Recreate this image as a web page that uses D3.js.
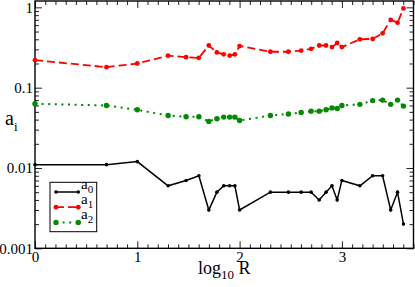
<!DOCTYPE html>
<html>
<head>
<meta charset="utf-8">
<script src="https://cdn.jsdelivr.net/npm/d3@7"></script>
<style>
  body { margin: 0; background: #fff; }
  text { font-family: "Liberation Serif", "DejaVu Serif", serif; fill: #000; }
</style>
</head>
<body>
<svg id="chart" width="415" height="287"></svg>
<script>
// x = log10 R
const logR = [0, 0.699, 1, 1.301, 1.477, 1.602, 1.699, 1.778, 1.845, 1.903, 1.954, 2,
  2.301, 2.477, 2.602, 2.699, 2.778, 2.845, 2.903, 2.954, 3, 3.176, 3.301, 3.398, 3.477, 3.544, 3.602];

const a0 = [0.011, 0.011, 0.012, 0.006, 0.007, 0.008, 0.003, 0.005, 0.006, 0.006, 0.006, 0.003,
  0.005, 0.005, 0.005, 0.005, 0.004, 0.005, 0.006, 0.004, 0.007, 0.006, 0.008, 0.008, 0.003, 0.005, 0.002];
const a1 = [0.22, 0.18, 0.20, 0.25, 0.24, 0.235, 0.335, 0.275, 0.26, 0.25, 0.26, 0.33,
  0.28, 0.28, 0.29, 0.305, 0.335, 0.335, 0.32, 0.36, 0.32, 0.40, 0.405, 0.475, 0.70, 0.645, 0.97];
const a2 = [0.063, 0.060, 0.053, 0.045, 0.0435, 0.0435, 0.038, 0.041, 0.043, 0.043, 0.043, 0.039,
  0.045, 0.047, 0.049, 0.051, 0.051, 0.053, 0.056, 0.055, 0.060, 0.062, 0.069, 0.070, 0.062, 0.070, 0.059];

const seriesNames = ["0", "1", "2"];
const xTicks = [0, 1, 2, 3];
const yTicks = [0.001, 0.01, 0.1, 1];

const series = [
  { sub: seriesNames[0], values: a0, color: "#000", dash: null, r: 1.8, width: 1.5 },
  { sub: seriesNames[1], values: a1, color: "#ff0000", dash: "8,4", r: 2.4, width: 1.8 },
  { sub: seriesNames[2], values: a2, color: "#008b00", dash: "2,4.6", r: 2.7, width: 2 }
];

// chart box
const boxL = 35, boxR = 413.5, boxT = 1, boxB = 248.3;

const svg = d3.select("#chart");

const x = d3.scaleLinear().domain([0, 3.7]).range([boxL, boxR]);
const y = d3.scaleLog().domain([0.001, 1.2]).range([boxB, boxT]);

// minor tick positions
const xMinor = d3.range(1, 38).map(i => i / 10).filter(v => Math.abs(v - Math.round(v)) > 1e-6);
const yMinor = [];
[-3, -2, -1, 0].forEach(p => {
  for (let k = 2; k <= 9; k++) {
    const v = k * Math.pow(10, p);
    if (v <= 1.2) yMinor.push(v);
  }
});

function axis(gen, tv, size, fmt, transform) {
  const g = svg.append("g")
    .attr("transform", transform)
    .call(gen.tickValues(tv).tickSize(size).tickPadding(3).tickFormat(fmt));
  g.select(".domain").remove();
  g.selectAll("line").attr("stroke", "#222").attr("stroke-width", 1);
  g.selectAll("text").style("font-size", "15px").attr("font-family", null);
  return g;
}

// bottom
axis(d3.axisBottom(x), xTicks, -7, d3.format("d"), `translate(0,${boxB})`);
axis(d3.axisBottom(x), xMinor, -4, () => "", `translate(0,${boxB})`);
// top
axis(d3.axisTop(x), xTicks, -7, () => "", `translate(0,${boxT})`);
axis(d3.axisTop(x), xMinor, -4, () => "", `translate(0,${boxT})`);
// left
axis(d3.axisLeft(y), yTicks, -7, d => String(d), `translate(${boxL},0)`).selectAll("text").attr("x", -2);
axis(d3.axisLeft(y), yMinor, -4, () => "", `translate(${boxL},0)`);
// right
axis(d3.axisRight(y), yTicks, -7, () => "", `translate(${boxR},0)`);
axis(d3.axisRight(y), yMinor, -4, () => "", `translate(${boxR},0)`);

// frame
svg.append("rect")
  .attr("x", boxL).attr("y", boxT)
  .attr("width", boxR - boxL).attr("height", boxB - boxT)
  .attr("fill", "none").attr("stroke", "#000").attr("stroke-width", 1.4);

const line = d3.line().x(d => x(d[0])).y(d => y(d[1]));

series.forEach(s => {
  const pts = logR.map((v, i) => [v, s.values[i]]);
  svg.append("path")
    .datum(pts)
    .attr("d", line)
    .attr("fill", "none")
    .attr("stroke", s.color)
    .attr("stroke-width", s.width)
    .attr("stroke-dasharray", s.dash);
  svg.append("g").selectAll("circle")
    .data(pts)
    .enter()
    .append("circle")
    .attr("cx", d => x(d[0]))
    .attr("cy", d => y(d[1]))
    .attr("r", s.r)
    .attr("fill", s.color);
});

// axis titles
const xt = svg.append("text")
  .attr("x", (boxL + boxR) / 2)
  .attr("y", 273.5)
  .attr("text-anchor", "middle")
  .style("font-size", "18px");
xt.append("tspan").text("log");
xt.append("tspan").attr("dy", 5).style("font-size", "13px").text("10");
xt.append("tspan").attr("dy", -5).text(" R");

const yt = svg.append("text")
  .attr("x", 5)
  .attr("y", 125)
  .style("font-size", "20px");
yt.append("tspan").text("a");
yt.append("tspan").attr("dy", 6).style("font-size", "13px").text("i");

// legend
const legend = svg.append("g").attr("id", "legend");
legend.append("rect")
  .attr("x", 50).attr("y", 182.3)
  .attr("width", 46.7).attr("height", 49.4)
  .attr("fill", "#fff").attr("stroke", "#000").attr("stroke-width", 1);

series.forEach((s, i) => {
  const ly = 192 + i * 15.2;
  legend.append("line")
    .attr("x1", 56).attr("x2", 78.3)
    .attr("y1", ly).attr("y2", ly)
    .attr("stroke", s.color)
    .attr("stroke-width", s.width)
    .attr("stroke-dasharray", s.dash);
  legend.selectAll(null)
    .data([56, 78.3])
    .enter()
    .append("circle")
    .attr("cx", d => d).attr("cy", ly).attr("r", s.r).attr("fill", s.color);
  const t = legend.append("text")
    .attr("x", 81).attr("y", ly - 3)
    .style("font-size", "15px");
  t.append("tspan").text("a");
  t.append("tspan").attr("dy", 4).style("font-size", "11px").text(s.sub);
});
</script>
</body>
</html>
